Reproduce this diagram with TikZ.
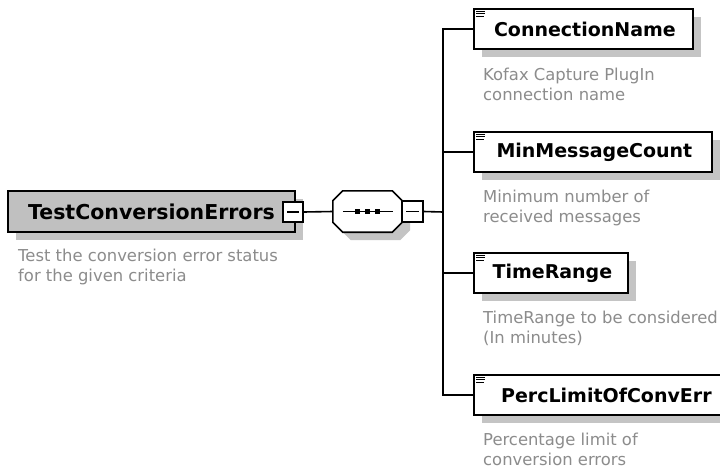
\documentclass[tikz,border=0pt]{standalone}
\usepackage{fontspec}
\setmainfont{DejaVu Sans}
\definecolor{descgray}{RGB}{140,140,140}
\definecolor{mainfill}{RGB}{192,192,192}
\definecolor{shadowgray}{RGB}{196,196,196}
\begin{document}
\begin{tikzpicture}[x=1pt,y=-1pt,
  shadowed/.style={preaction={fill=shadowgray, transform canvas={shift={(8pt,-8pt)}}}},
  elem/.style={draw=black, line width=1.8pt, fill=white, shadowed, minimum height=40pt,
    inner sep=0pt, anchor=west, font=\fontsize{19}{22}\selectfont\bfseries},
  mainbox/.style={elem, fill=mainfill, anchor=center, font=\fontsize{20.5}{24}\selectfont\bfseries},
  minusbox/.style={draw=black, line width=1.2pt, fill=white, minimum size=20pt, inner sep=0pt,
    path picture={\draw[line width=1.2pt] ([xshift=4pt]path picture bounding box.west) -- ([xshift=-4pt]path picture bounding box.east);}},
  seqarea/.style={minimum width=69pt, minimum height=41pt, inner sep=0pt},
  octo/.style={draw=black, line width=1.6pt, fill=white},
  desc/.style={text=descgray, font=\fontsize{16.4}{20}\selectfont, align=left, anchor=north west, inner sep=0pt},
  conn/.style={draw=black, line width=1.6pt},
  icon/.style={line width=1.1pt}
]
\clip (0,0) rectangle (720,474);
\fill[white] (0,0) rectangle (720,474);

% main element
\node[mainbox, minimum width=287pt, minimum height=41pt] (main) at (151.5,211.5) {TestConversionErrors};
\node[desc] (maind) at (18,249) {Test the conversion error status\\for the given criteria};
\node[minusbox] (mm) at (293,212) {};

% sequence compositor
\node[seqarea] (seq) at (367.5,211.5) {};
\def\octpath{([xshift=10pt]seq.north west) -- ([xshift=-10pt]seq.north east) -- ([yshift=-10pt]seq.north east) -- ([yshift=10pt]seq.south east) -- ([xshift=-10pt]seq.south east) -- ([xshift=10pt]seq.south west) -- ([yshift=10pt]seq.south west) -- ([yshift=-10pt]seq.north west) -- cycle}
\fill[shadowgray, transform canvas={shift={(8pt,-8pt)}}] \octpath;
\draw[octo] \octpath;
\draw[line width=1.3pt] ([xshift=10pt]seq.west) -- ([xshift=-9pt]seq.east);
\foreach \dx in {-10,0,10} {
  \fill ([xshift=\dx pt]seq.center) ++(-2.7,-2.7) rectangle ++(5.4,5.4);
}
\node[minusbox, minimum size=21pt] (sm) at (412.5,211.5) {};

\draw[conn] (mm.east) -- (seq.west);
\coordinate (bus) at (443,212);
\draw[conn] (sm.east) -- (bus);

% children
\node[elem, minimum width=219pt] (c1) at (473,29) {\hspace*{3pt}ConnectionName};
\node[elem, minimum width=238pt] (c2) at (473,152) {\hspace*{3pt}MinMessageCount};
\node[elem, minimum width=154pt] (c3) at (473,273) {\hspace*{3pt}TimeRange};
\node[elem, minimum width=262pt] (c4) at (473,395) {\hspace*{3pt}PercLimitOfConvErr};

\foreach \c in {c1,c2,c3,c4} {
  \foreach \dy/\len in {3.2/9,5.7/9,8.2/8} {
    \draw[icon] ([xshift=3pt,yshift=-\dy pt]\c.north west) -- ++(\len,0);
  }
}

\draw[conn] (c1.west) -- (c1.west -| bus) -- (c4.west -| bus) -- (c4.west);
\draw[conn] (c2.west -| bus) -- (c2.west);
\draw[conn] (c3.west -| bus) -- (c3.west);

\node[desc] (d1) at (483,68) {Kofax Capture PlugIn\\connection name};
\node[desc] (d2) at (483,190) {Minimum number of\\received messages};
\node[desc] (d3) at (483,311) {TimeRange to be considered\\(In minutes)};
\node[desc] (d4) at (483,433) {Percentage limit of\\conversion errors};
\end{tikzpicture}
\end{document}
